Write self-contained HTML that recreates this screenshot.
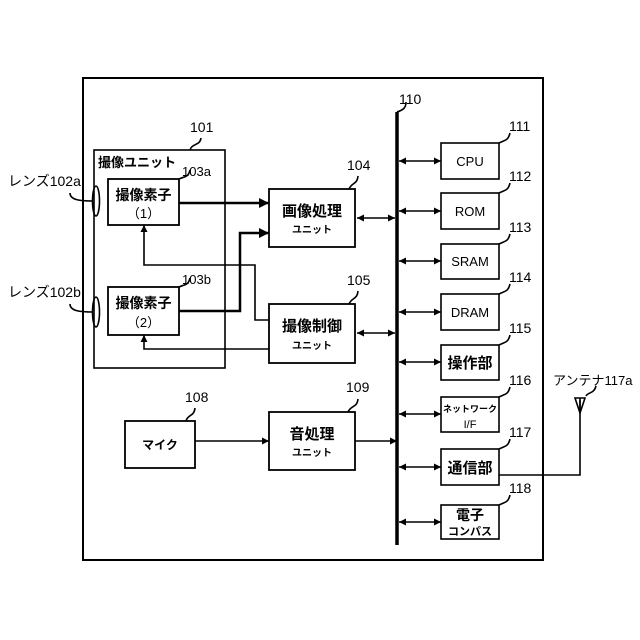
<!DOCTYPE html>
<html><head><meta charset="utf-8"><style>
html,body{margin:0;padding:0;background:#fff}
svg{display:block}
text{font-family:"Liberation Sans","Noto Sans CJK JP",sans-serif;fill:#000}
</style></head><body>
<svg width="640" height="640" viewBox="0 0 640 640" xmlns="http://www.w3.org/2000/svg">
<defs>
<marker id="a" viewBox="0 0 10 10" refX="10" refY="5" markerWidth="7" markerHeight="7" orient="auto-start-reverse" markerUnits="userSpaceOnUse"><path d="M0,0L10,5L0,10z" fill="#000"/></marker>
<marker id="b" viewBox="0 0 10 10" refX="10" refY="5" markerWidth="10" markerHeight="10" orient="auto" markerUnits="userSpaceOnUse"><path d="M0,0L10,5L0,10z" fill="#000"/></marker>
</defs>
<g fill="none" stroke="#000" stroke-width="1.6">
<rect x="83" y="78" width="460" height="482" stroke-width="2"/>
<rect x="94" y="150" width="131" height="218"/>
<rect x="108" y="179" width="71" height="46" stroke-width="1.8"/>
<rect x="108" y="287" width="71" height="48" stroke-width="1.8"/>
<rect x="269" y="189" width="86" height="58" stroke-width="1.8"/>
<rect x="269" y="304" width="86" height="59" stroke-width="1.8"/>
<rect x="125" y="421" width="70" height="47" stroke-width="1.8"/>
<rect x="269" y="412" width="86" height="58" stroke-width="1.8"/>
<rect x="441" y="143" width="58" height="36"/>
<rect x="441" y="193" width="58" height="36"/>
<rect x="441" y="244" width="58" height="35"/>
<rect x="441" y="294" width="58" height="36"/>
<rect x="441" y="345" width="58" height="35"/>
<rect x="441" y="397" width="58" height="35"/>
<rect x="441" y="449" width="58" height="36"/>
<rect x="441" y="505" width="58" height="34"/>
<line x1="397" y1="112" x2="397" y2="545" stroke-width="3.5"/>
<ellipse cx="96" cy="201" rx="3.5" ry="15"/>
<ellipse cx="96" cy="312" rx="3.5" ry="15"/>
<path d="M70,193 C70,200 80,201 93,201"/>
<path d="M70,304 C70,311 80,312 93,312"/>
<path d="M190,150 C192,143 200,146 201,138"/>
<path d="M179,179 C185,176 188,178 190,170"/>
<path d="M179,287 C185,284 188,286 190,278"/>
<path d="M349,189 C352,182 357,185 358,176"/>
<path d="M349,304 C352,297 357,300 358,291"/>
<path d="M186,421 C188,414 194,417 195,408"/>
<path d="M348,412 C351,405 357,408 358,399"/>
<path d="M397,112 C403,110 406,108 406,102"/>
<path d="M499,143 C505,140 508,141 510,133"/>
<path d="M499,193 C505,190 508,191 510,183"/>
<path d="M499,244 C505,241 508,242 510,234"/>
<path d="M499,294 C505,291 508,292 510,284"/>
<path d="M499,345 C505,342 508,343 510,335"/>
<path d="M499,397 C505,394 508,395 510,387"/>
<path d="M499,449 C505,446 508,447 510,439"/>
<path d="M499,505 C505,502 508,503 510,495"/>
<path d="M586,396 C588,392 594,394 596,386"/>
<line x1="179" y1="203" x2="269" y2="203" stroke-width="2.5" marker-end="url(#b)"/>
<polyline points="179,311 240,311 240,233 269,233" stroke-width="2.5" marker-end="url(#b)"/>
<polyline points="269,320 255,320 255,265 144,265 144,225" marker-end="url(#a)"/>
<polyline points="269,349 144,349 144,335" marker-end="url(#a)"/>
<line x1="195" y1="441" x2="269" y2="441" marker-end="url(#a)"/>
<line x1="355" y1="441" x2="397" y2="441" marker-end="url(#a)"/>
<line x1="357" y1="218" x2="395" y2="218" marker-start="url(#a)" marker-end="url(#a)"/>
<line x1="357" y1="333" x2="395" y2="333" marker-start="url(#a)" marker-end="url(#a)"/>
<g marker-start="url(#a)" marker-end="url(#a)">
<line x1="399" y1="161" x2="441" y2="161"/>
<line x1="399" y1="211" x2="441" y2="211"/>
<line x1="399" y1="261" x2="441" y2="261"/>
<line x1="399" y1="312" x2="441" y2="312"/>
<line x1="399" y1="362" x2="441" y2="362"/>
<line x1="399" y1="414" x2="441" y2="414"/>
<line x1="399" y1="467" x2="441" y2="467"/>
<line x1="399" y1="522" x2="441" y2="522"/>
</g>
<polyline points="499,475 580,475 580,400"/>
<path d="M575,398 L585,398 L580,413 Z"/>
<line x1="580" y1="398" x2="580" y2="413"/>
</g>
<g font-size="14">
<text x="190" y="132">101</text>
<text x="98" y="167" font-size="13" font-weight="bold">撮像ユニット</text>
<text x="182" y="176" font-size="13">103a</text>
<text x="182" y="284" font-size="13">103b</text>
<text x="143.5" y="200" text-anchor="middle" font-size="14" font-weight="bold">撮像素子</text>
<text x="143.5" y="218" text-anchor="middle" font-size="13">（1）</text>
<text x="143.5" y="308" text-anchor="middle" font-size="14" font-weight="bold">撮像素子</text>
<text x="143.5" y="327" text-anchor="middle" font-size="13">（2）</text>
<text x="8" y="186" font-size="14">レンズ102a</text>
<text x="8" y="297" font-size="14">レンズ102b</text>
<text x="347" y="170">104</text>
<text x="347" y="285">105</text>
<text x="312" y="216" text-anchor="middle" font-size="15" font-weight="bold">画像処理</text>
<text x="312" y="233" text-anchor="middle" font-size="10" font-weight="bold">ユニット</text>
<text x="312" y="331" text-anchor="middle" font-size="15" font-weight="bold">撮像制御</text>
<text x="312" y="349" text-anchor="middle" font-size="10" font-weight="bold">ユニット</text>
<text x="185" y="402">108</text>
<text x="346" y="392">109</text>
<text x="160" y="449" text-anchor="middle" font-size="12" font-weight="bold">マイク</text>
<text x="312" y="439" text-anchor="middle" font-size="15" font-weight="bold">音処理</text>
<text x="312" y="456" text-anchor="middle" font-size="10" font-weight="bold">ユニット</text>
<text x="399" y="104">110</text>
<text x="509" y="131">111</text>
<text x="509" y="181">112</text>
<text x="509" y="232">113</text>
<text x="509" y="282">114</text>
<text x="509" y="333">115</text>
<text x="509" y="385">116</text>
<text x="509" y="437">117</text>
<text x="509" y="493">118</text>
<text x="470" y="166" text-anchor="middle" font-size="13">CPU</text>
<text x="470" y="216" text-anchor="middle" font-size="13">ROM</text>
<text x="470" y="266" text-anchor="middle" font-size="13">SRAM</text>
<text x="470" y="317" text-anchor="middle" font-size="13">DRAM</text>
<text x="470" y="368" text-anchor="middle" font-size="15" font-weight="bold">操作部</text>
<text x="470" y="412" text-anchor="middle" font-size="9" font-weight="bold">ネットワーク</text>
<text x="470" y="428" text-anchor="middle" font-size="11">I/F</text>
<text x="470" y="473" text-anchor="middle" font-size="15" font-weight="bold">通信部</text>
<text x="470" y="520" text-anchor="middle" font-size="14" font-weight="bold">電子</text>
<text x="470" y="535" text-anchor="middle" font-size="11" font-weight="bold">コンパス</text>
<text x="553" y="385" font-size="13">アンテナ117a</text>
</g>
</svg>
</body></html>
